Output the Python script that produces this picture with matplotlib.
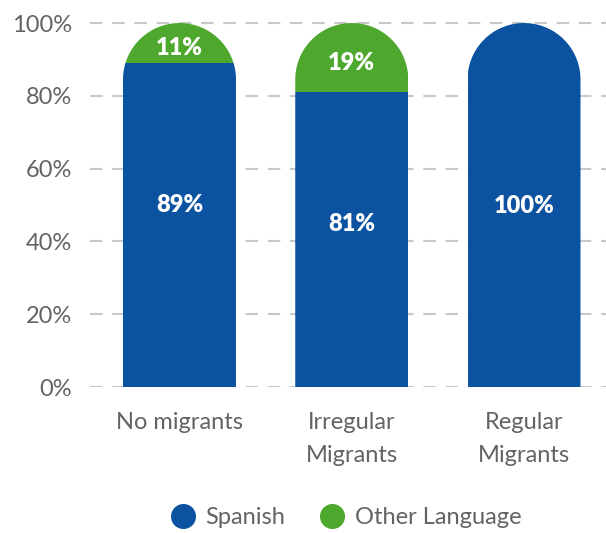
import numpy as np
import matplotlib
matplotlib.use("Agg")
import matplotlib.pyplot as plt
from matplotlib.path import Path
from matplotlib.patches import PathPatch
from matplotlib.lines import Line2D

categories = ["No migrants", "Irregular\nMigrants", "Regular\nMigrants"]
spanish = [89, 81, 100]
other_language = [11, 19, 0]
y_ticks = [0, 20, 40, 60, 80, 100]

BLUE = "#0b53a0"
GREEN = "#4ea82e"
TEXT = "#636363"
GRID = "#c8c8c8"

plt.rcParams["font.family"] = ["Lato", "DejaVu Sans"]
plt.rcParams["lines.scale_dashes"] = False

fig = plt.figure(figsize=(6.06, 5.33), dpi=100)
ax = fig.add_axes([90 / 606, 146 / 533, 516 / 606, 374 / 533])

x = np.arange(len(categories))
width = 0.656
ax.set_xlim(-0.5196, 2.476)
ax.set_ylim(0, 102.75)

bars_blue = ax.bar(x, spanish, width, color=BLUE, zorder=2)
bars_green = ax.bar(x, other_language, width, bottom=spanish, color=GREEN, zorder=2)

# round the top of each stacked column into a semicircle (circular in pixels)
fig.canvas.draw()
p0 = ax.transData.transform((0, 0))
p1 = ax.transData.transform((1, 1))
px_x, px_y = p1 - p0
rx = width / 2
ry = rx * px_x / px_y
for i, xi in enumerate(x):
    top = spanish[i] + other_language[i]
    t = np.linspace(0, np.pi, 60)
    arc = np.column_stack([xi + rx * np.cos(t), top - ry + ry * np.sin(t)])
    verts = np.vstack([[xi - rx, 0], [xi + rx, 0], arc, [xi - rx, 0]])
    clip = PathPatch(Path(verts, closed=True), transform=ax.transData)
    bars_blue[i].set_clip_path(clip)
    bars_green[i].set_clip_path(clip)

spanish_label_y = [50.5, 45.3, 50.3]
for i, xi in enumerate(x):
    ax.text(xi, spanish_label_y[i], f"{spanish[i]}%", ha="center", va="center_baseline",
            color="white", fontsize=17, fontweight="heavy", zorder=3)
    if other_language[i] > 0:
        ax.text(xi, spanish[i] + other_language[i] / 2 - 0.8, f"{other_language[i]}%",
                ha="center", va="center_baseline", color="white", fontsize=17,
                fontweight="heavy", zorder=3)

ax.set_yticks(y_ticks)
ax.set_yticklabels([f"{v}%" for v in y_ticks])
ax.set_xticks(x)
ax.set_xticklabels(categories, linespacing=1.68)
ax.tick_params(axis="y", length=0, pad=13, labelsize=17, labelcolor=TEXT)
ax.tick_params(axis="x", length=0, pad=18, labelsize=17, labelcolor=TEXT)
ax.yaxis.grid(True, color=GRID, linewidth=1.5, linestyle=(0, (9, 7)), zorder=0)
ax.set_axisbelow(True)
for s in ax.spines.values():
    s.set_visible(False)

handles = [
    Line2D([], [], marker="o", linestyle="none", markersize=17, color=BLUE),
    Line2D([], [], marker="o", linestyle="none", markersize=17, color=GREEN),
]
fig.legend(handles, ["Spanish", "Other Language"], loc="center",
           bbox_to_anchor=(346 / 606, 1 - 518 / 533), ncol=2, frameon=False,
           fontsize=17, labelcolor=TEXT, handletextpad=0.45, columnspacing=1.5,
           handlelength=1.0)

fig.savefig("out.png", dpi=100)
